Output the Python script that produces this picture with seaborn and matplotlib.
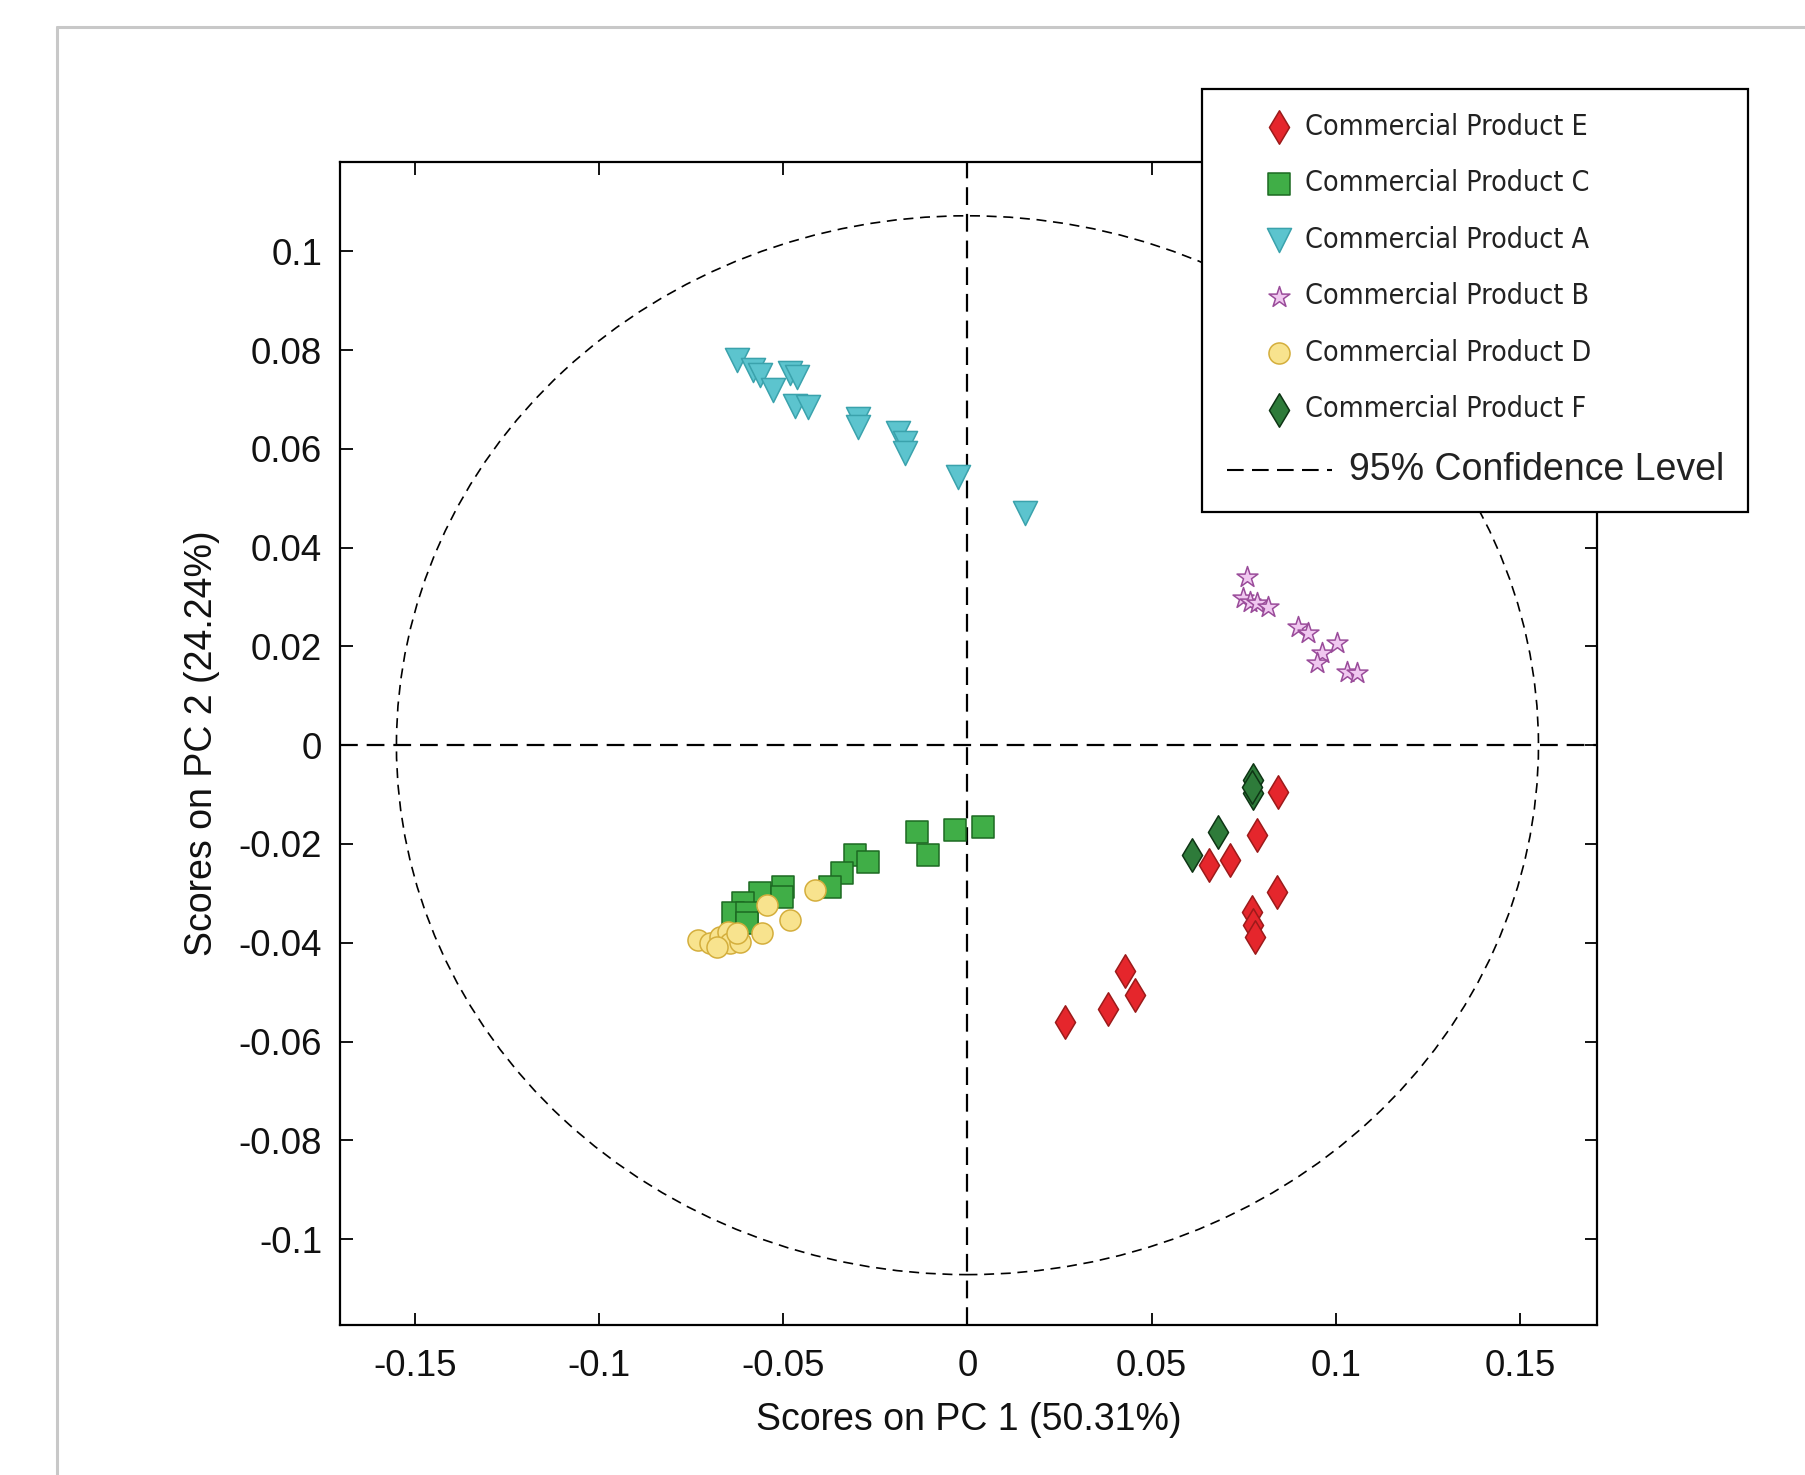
"""PCA score plot - 6 commercial products with 95% confidence ellipse."""

import matplotlib

matplotlib.use("Agg")
import matplotlib.pyplot as plt
import pandas as pd
import seaborn as sns
from matplotlib.lines import Line2D
from matplotlib.patches import Ellipse
from matplotlib.font_manager import FontProperties

# --- scores ---
e_pc1 = [0.0843, 0.0786, 0.0655, 0.0712, 0.0840, 0.0772, 0.0775, 0.0780,
         0.0265, 0.0381, 0.0427, 0.0454]
e_pc2 = [-0.0095, -0.0182, -0.0243, -0.0233, -0.0298, -0.0338, -0.0364, -0.0389,
         -0.0561, -0.0535, -0.0458, -0.0506]

c_pc1 = [0.0042, -0.0034, -0.0137, -0.0107, -0.0305, -0.0270, -0.0341, -0.0373,
         -0.0500, -0.0563, -0.0609, -0.0636, -0.0598, -0.0598, -0.0503]
c_pc2 = [-0.0166, -0.0172, -0.0176, -0.0223, -0.0223, -0.0237, -0.0259, -0.0288,
         -0.0288, -0.0300, -0.0320, -0.0340, -0.0340, -0.0360, -0.0308]

a_pc1 = [-0.0625, -0.0582, -0.0563, -0.0528, -0.0482, -0.0462, -0.0468, -0.0433,
         -0.0297, -0.0297, -0.0189, -0.0170, -0.0170, -0.0026, 0.0156]
a_pc2 = [0.0780, 0.0760, 0.0750, 0.0720, 0.0754, 0.0746, 0.0686, 0.0684,
         0.0660, 0.0645, 0.0632, 0.0612, 0.0592, 0.0543, 0.0470]

b_pc1 = [0.0759, 0.0748, 0.0767, 0.0786, 0.0815, 0.0897, 0.0924, 0.1003,
         0.0962, 0.0948, 0.1030, 0.1057]
b_pc2 = [0.0341, 0.0298, 0.0290, 0.0288, 0.0280, 0.0240, 0.0227, 0.0207,
         0.0187, 0.0167, 0.0148, 0.0146]

d_pc1 = [-0.0414, -0.0544, -0.0482, -0.0557, -0.0731, -0.0699, -0.0672, -0.0650,
         -0.0644, -0.0617, -0.0680, -0.0625]
d_pc2 = [-0.0293, -0.0324, -0.0354, -0.0380, -0.0395, -0.0401, -0.0389, -0.0378,
         -0.0401, -0.0399, -0.0409, -0.0380]

f_pc1 = [0.0775, 0.0775, 0.0772, 0.0680, 0.0609]
f_pc2 = [-0.0071, -0.0097, -0.0085, -0.0176, -0.0222]

# 95% confidence ellipse half-axes
conf_pc1 = 0.155
conf_pc2 = 0.1072

x_ticks = [-0.15, -0.1, -0.05, 0, 0.05, 0.1, 0.15]
x_ticklabels = ["-0.15", "-0.1", "-0.05", "0", "0.05", "0.1", "0.15"]
y_ticks = [-0.1, -0.08, -0.06, -0.04, -0.02, 0, 0.02, 0.04, 0.06, 0.08, 0.1]
y_ticklabels = ["-0.1", "-0.08", "-0.06", "-0.04", "-0.02", "0",
                "0.02", "0.04", "0.06", "0.08", "0.1"]

# name, x, y, marker, size, face, edge
groups = [
    ("Commercial Product E", e_pc1, e_pc2, "d", 290, "#e5262c", "#9c1a1a"),
    ("Commercial Product C", c_pc1, c_pc2, "s", 250, "#40ae47", "#1c6a22"),
    ("Commercial Product A", a_pc1, a_pc2, "v", 300, "#5cc4ce", "#3aa2ac"),
    ("Commercial Product B", b_pc1, b_pc2, "*", 250, "#f0c8f0", "#9a4c9a"),
    ("Commercial Product D", d_pc1, d_pc2, "o", 230, "#f8e38e", "#d4ae3c"),
    ("Commercial Product F", f_pc1, f_pc2, "d", 290, "#2e7b3a", "#0e3515"),
]

sns.set_theme(style="white")
plt.rcParams["font.family"] = ["Liberation Sans", "DejaVu Sans"]

fig = plt.figure(figsize=(18.06, 14.75), dpi=100)
ax = fig.add_axes([0.1883, 0.1017, 0.696, 0.7885])

for name, xs, ys, mk, size, face, edge in groups:
    df = pd.DataFrame({"pc1": xs, "pc2": ys})
    sns.scatterplot(data=df, x="pc1", y="pc2", marker=mk, s=size, color=face,
                    edgecolor=edge, linewidth=1.1, label=name, ax=ax, zorder=3)

ax.add_patch(Ellipse((0, 0), 2 * conf_pc1, 2 * conf_pc2, fill=False, ec="black",
                     lw=1.2, ls=(0, (6, 4)), zorder=2))
ax.axhline(0, color="black", lw=1.6, ls=(0, (8, 4)), zorder=1)
ax.axvline(0, color="black", lw=1.6, ls=(0, (8, 4)), zorder=1)

ax.set_xlim(-0.1703, 0.1709)
ax.set_ylim(-0.1174, 0.1181)
ax.set_xticks(x_ticks, x_ticklabels)
ax.set_yticks(y_ticks, y_ticklabels)
ax.tick_params(direction="in", length=9, width=1.3, labelsize=26.5, color="black",
               labelcolor="#111111", top=True, right=True, bottom=True, left=True)
ax.tick_params(axis="x", pad=17)
ax.tick_params(axis="y", pad=13)
for sp in ax.spines.values():
    sp.set_color("black")
    sp.set_linewidth(1.6)

ax.set_xlabel("Scores on PC 1 (50.31%)", fontsize=27, va="center", color="#111111")
ax.set_ylabel("Scores on PC 2 (24.24%)", fontsize=27, va="center", color="#111111")
ax.xaxis.set_label_coords(0.5, -0.0817)
ax.yaxis.set_label_coords(-0.1098, 0.5)

handles, labels = ax.get_legend_handles_labels()
handles.append(Line2D([], [], color="black", lw=1.5, ls=(0, (8, 4))))
labels.append("95% Confidence Level")
leg = ax.legend(handles, labels, loc="upper right", bbox_to_anchor=(0.9681, 0.9399),
                bbox_transform=fig.transFigure, borderaxespad=0, frameon=True,
                fancybox=False, edgecolor="black", framealpha=1, borderpad=0.85,
                labelspacing=1.0, handlelength=3.7, handletextpad=0.6,
                prop=FontProperties(family="DejaVu Sans", stretch="condensed", size=20.5))
leg.get_frame().set_linewidth(1.6)
leg.set_zorder(10)
texts = leg.get_texts()
texts[-1].set_fontproperties(FontProperties(family="Liberation Sans", size=27))
for t in texts:
    t.set_color("#222222")
# product names sit closer to their markers than the dashed-line label does
for t in texts[:-1]:
    t.set_x(-44)

# light gray frame around the figure (top and left edges)
fig.add_artist(Line2D([57 / 1806, 1.0], [1 - 27 / 1475, 1 - 27 / 1475],
                      color="#c8c8c8", lw=2.2, transform=fig.transFigure))
fig.add_artist(Line2D([57 / 1806, 57 / 1806], [0.0, 1 - 27 / 1475],
                      color="#c8c8c8", lw=2.2, transform=fig.transFigure))

fig.savefig("out.png", dpi=100, facecolor="white")
plt.close(fig)
